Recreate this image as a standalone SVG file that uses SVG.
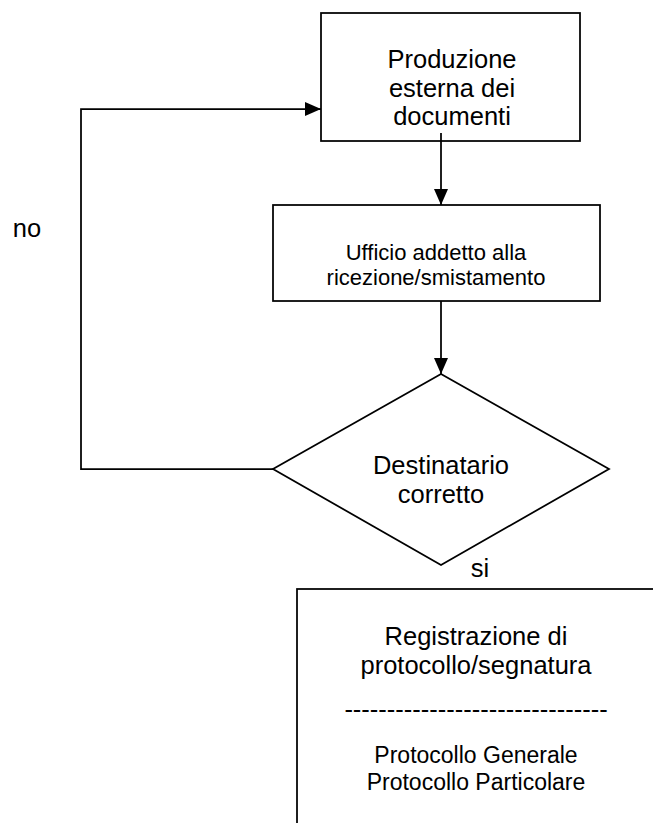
<svg xmlns="http://www.w3.org/2000/svg" width="653" height="823" viewBox="0 0 653 823">
<defs>
<style>
.box{fill:#fff;stroke:#000;stroke-width:1.75}
.ln{fill:none;stroke:#000;stroke-width:1.75}
text{font-family:"Liberation Sans",Arial,sans-serif;fill:#000;text-anchor:middle}
.big{font-size:25.5px}
.sm{font-size:23px}
.mid{font-size:22px}
</style>
<marker id="arr" viewBox="0 0 16 14" refX="16" refY="7" markerWidth="16" markerHeight="14" markerUnits="userSpaceOnUse" orient="auto">
<path d="M0,0 L16,7 L0,14 Z" fill="#000"/>
</marker>
</defs>
<rect width="653" height="823" fill="#fff"/>
<g id="produzione">
<rect class="box" x="321" y="13" width="259" height="128"/>
<text class="big" x="452" y="68">Produzione</text>
<text class="big" x="452" y="96.5">esterna dei</text>
<text class="big" x="452" y="125">documenti</text>
</g>
<g id="ufficio">
<rect class="box" x="273" y="205" width="327" height="96"/>
<text class="mid" x="436" y="260">Ufficio addetto alla</text>
<text class="mid" x="436" y="285">ricezione/smistamento</text>
</g>
<g id="destinatario">
<polygon class="box" points="441,374 609,469 441,565 273,469"/>
<text class="big" x="441" y="474">Destinatario</text>
<text class="big" x="441" y="503">corretto</text>
</g>
<g id="registrazione">
<rect class="box" x="297" y="589" width="400" height="300"/>
<text class="big" x="476" y="645">Registrazione di</text>
<text class="big" x="476" y="674">protocollo/segnatura</text>
<text class="big" x="476" y="718">-------------------------------</text>
<text class="sm" x="476" y="763">Protocollo Generale</text>
<text class="sm" x="476" y="790">Protocollo Particolare</text>
</g>
<g id="labels">
<text class="big" x="27" y="237">no</text>
<text class="big" x="480" y="577">si</text>
</g>
<g id="connectors">
<line class="ln" x1="441" y1="133" x2="441" y2="205" marker-end="url(#arr)"/>
<line class="ln" x1="441" y1="301" x2="441" y2="374" marker-end="url(#arr)"/>
<polyline class="ln" points="273,469 81,469 81,109 321,109" marker-end="url(#arr)"/>
</g>
</svg>
